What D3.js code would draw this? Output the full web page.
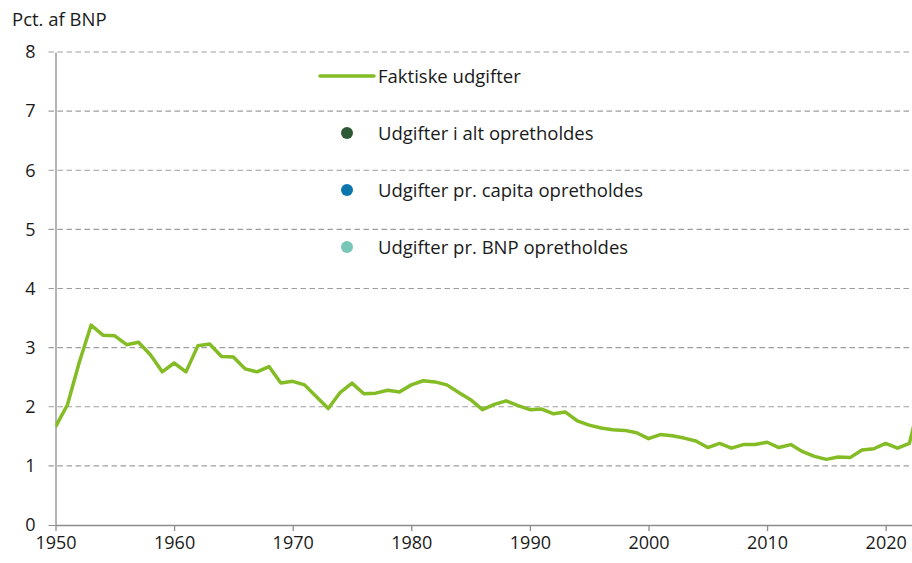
<!DOCTYPE html>
<html>
<head>
<meta charset="utf-8">
<script src="https://cdn.jsdelivr.net/npm/d3@7"></script>
<style>
  body { margin: 0; background: #fff; }
  text { font-family: "Open Sans", sans-serif; fill: #1a1a1a; }
</style>
</head>
<body>
<script>
const years = d3.range(1950, 2024);
const spending = [
  1.66, 2.03, 2.75, 3.38, 3.21, 3.20, 3.05, 3.09, 2.88, 2.59,
  2.74, 2.59, 3.03, 3.06, 2.85, 2.84, 2.64, 2.59, 2.68, 2.40,
  2.43, 2.37, 2.17, 1.97, 2.24, 2.40, 2.22, 2.23, 2.28, 2.25,
  2.37, 2.44, 2.42, 2.37, 2.24, 2.12, 1.95, 2.04, 2.10, 2.02,
  1.95, 1.96, 1.88, 1.91, 1.76, 1.69, 1.64, 1.61, 1.60, 1.56,
  1.46, 1.53, 1.51, 1.47, 1.42, 1.31, 1.38, 1.30, 1.36, 1.36,
  1.40, 1.31, 1.36, 1.24, 1.16, 1.11, 1.15, 1.14, 1.27, 1.29,
  1.38, 1.30, 1.38, 2.20
];
const xTicks = [1950, 1960, 1970, 1980, 1990, 2000, 2010, 2020];
const yTicks = [0, 1, 2, 3, 4, 5, 6, 7, 8];
const legendLabels = ["Faktiske udgifter", "Udgifter i alt opretholdes", "Udgifter pr. capita opretholdes", "Udgifter pr. BNP opretholdes"];
const legendColors = ["#84bc25", "#2d5a35", "#0b76ac", "#78c7b6"];

const w = 912;
const h = 563;
const mLeft = 55.5;
const mRight = 912;
const mTop = 52;
const mBottom = 525;

const svg = d3.select("body")
  .append("svg")
  .attr("width", w)
  .attr("height", h);

const x = d3.scaleLinear()
  .domain([1950, 2022.22])
  .range([mLeft, mRight]);

const y = d3.scaleLinear()
  .domain([0, 8])
  .range([mBottom, mTop]);

svg.append("defs").append("clipPath")
  .attr("id", "plot")
  .append("rect")
  .attr("x", mLeft)
  .attr("y", 0)
  .attr("width", mRight - mLeft)
  .attr("height", h);

// gridlines
svg.append("g")
  .selectAll("line")
  .data(yTicks.filter(d => d > 0))
  .enter()
  .append("line")
  .attr("x1", mLeft - 7)
  .attr("x2", mRight)
  .attr("y1", d => y(d))
  .attr("y2", d => y(d))
  .attr("stroke", "#9e9e9e")
  .attr("stroke-width", 1.2)
  .attr("stroke-dasharray", "5.5,3.5");

// y axis
const yAxis = svg.append("g")
  .attr("transform", `translate(${mLeft},0)`)
  .call(d3.axisLeft(y).tickValues(yTicks).tickSize(7).tickSizeOuter(0).tickPadding(13));
yAxis.selectAll("line").attr("stroke", d => d === 0 ? "#8c8c8c" : "none");
yAxis.select(".domain").attr("stroke", "#8c8c8c").attr("stroke-width", 1.3);
yAxis.selectAll("text")
  .style("font-family", "Open Sans")
  .style("font-size", "18px")
  .attr("fill", "#1a1a1a");

// x axis
const xAxis = svg.append("g")
  .attr("transform", `translate(0,${mBottom})`)
  .call(d3.axisBottom(x).tickValues(xTicks).tickFormat(d3.format("d")).tickSize(6).tickSizeOuter(0).tickPadding(5));
xAxis.selectAll("line").attr("stroke", "#8c8c8c").attr("stroke-width", 1.3);
xAxis.select(".domain").attr("stroke", "#8c8c8c").attr("stroke-width", 1.3);
xAxis.selectAll("text")
  .style("font-family", "Open Sans")
  .style("font-size", "18px")
  .attr("fill", "#1a1a1a");

// title
svg.append("text")
  .text("Pct. af BNP")
  .attr("x", 12)
  .attr("y", 26)
  .style("font-size", "18.5px");

// line
const line = d3.line()
  .x((d, i) => x(years[i]))
  .y(d => y(d));

svg.append("path")
  .datum(spending)
  .attr("clip-path", "url(#plot)")
  .attr("d", line)
  .attr("fill", "none")
  .attr("stroke", legendColors[0])
  .attr("stroke-width", 3.5)
  .attr("stroke-linejoin", "round");

// legend
const legend = svg.append("g")
  .attr("transform", "translate(320, 76)");

const item = legend.selectAll("g")
  .data(legendLabels)
  .enter()
  .append("g")
  .attr("transform", (d, i) => `translate(0, ${i * 57})`);

item.filter((d, i) => i === 0)
  .append("line")
  .attr("x1", 0)
  .attr("x2", 54)
  .attr("stroke", legendColors[0])
  .attr("stroke-width", 3.5)
  .attr("stroke-linecap", "round");

item.filter((d, i) => i > 0)
  .append("circle")
  .attr("cx", 27)
  .attr("r", 6)
  .attr("fill", (d, i) => legendColors[i + 1]);

item.append("text")
  .attr("x", 58)
  .attr("dy", "0.36em")
  .style("font-size", "18.5px")
  .text(d => d);
</script>
</body>
</html>
